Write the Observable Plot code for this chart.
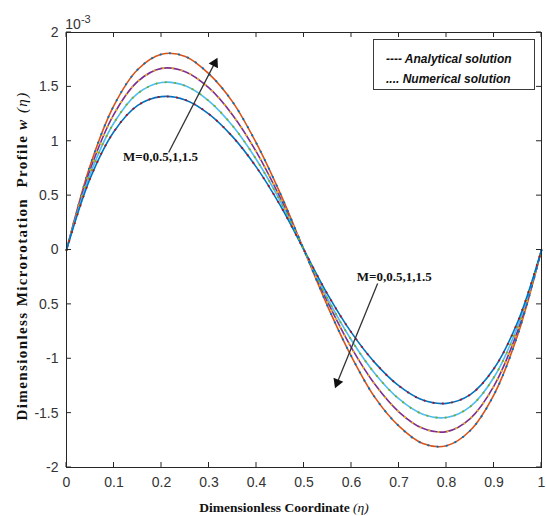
<!DOCTYPE html>
<html><head><meta charset="utf-8">
<script src="https://cdn.jsdelivr.net/npm/d3@7"></script>
<script src="https://cdn.jsdelivr.net/npm/@observablehq/plot@0.6"></script>
<style>
body{margin:0;background:#fff;}
#wrap{position:relative;width:546px;height:516px;}
#legend{position:absolute;left:373px;top:39px;width:162px;height:51px;box-sizing:border-box;border:1px solid #3a3a3a;background:#fff;
 font:italic bold 12px "Liberation Sans",Arial,sans-serif;color:#111;padding:9px 0 0 12px;line-height:20px;}
</style></head><body><div id="wrap"></div>
<script>
const eta = [0,0.05,0.1,0.15,0.2,0.25,0.3,0.35,0.4,0.45,0.5,0.55,0.6,0.65,0.7,0.75,0.8,0.85,0.9,0.95,1];
const wM0  = [0,0.78,1.33,1.66,1.80,1.78,1.62,1.36,0.98,0.52,0,-0.52,-0.98,-1.36,-1.62,-1.78,-1.80,-1.66,-1.33,-0.78,0];
const wM05 = [0,0.74,1.25,1.55,1.67,1.64,1.49,1.24,0.90,0.48,0,-0.48,-0.90,-1.24,-1.49,-1.64,-1.67,-1.55,-1.25,-0.74,0];
const wM1  = [0,0.70,1.17,1.44,1.54,1.51,1.37,1.14,0.83,0.45,0,-0.45,-0.83,-1.14,-1.37,-1.51,-1.54,-1.44,-1.17,-0.70,0];
const wM15 = [0,0.66,1.09,1.33,1.41,1.38,1.25,1.04,0.76,0.41,0,-0.41,-0.76,-1.04,-1.25,-1.38,-1.41,-1.33,-1.09,-0.66,0];
const seriesNames = ["M=0","M=0.5","M=1","M=1.5"];
const seriesValues = [wM0,wM05,wM1,wM15];
const lineColors = ["#D95319","#7E2F8E","#4DBEEE","#0072BD"];
const dotColors = ["#0072BD","#EDB120","#77AC30","#A2142F"];
const xTicks = [0,0.1,0.2,0.3,0.4,0.5,0.6,0.7,0.8,0.9,1];
const xTickLabels = ["0","0.1","0.2","0.3","0.4","0.5","0.6","0.7","0.8","0.9","1"];
const yTicks = [-2,-1.5,-1,-0.5,0,0.5,1,1.5,2];
const yTickLabels = ["-2","-1.5","-1","0.5","0","0.5","1","1.5","2"];
const annoLabel = "M=0,0.5,1,1.5";
const annotations = [{x:0.198,y:0.86},{x:0.69,y:-0.244}];
const arrows = [{x1:0.215,y1:0.897,x2:0.317,y2:1.758,hx:0.312,hy:1.718,rot:27.5},
                {x1:0.655,y1:-0.308,x2:0.566,y2:-1.262,hx:0.570,hy:-1.219,rot:202}];

const rows = [];
seriesNames.forEach((s,i)=>eta.forEach((e,j)=>rows.push({series:s, eta:e, w:seriesValues[i][j]})));

const marks = [];
seriesNames.forEach((s,i)=>{
  const d = rows.filter(r=>r.series===s);
  marks.push(Plot.line(d,{x:"eta",y:"w",stroke:lineColors[i],strokeWidth:1.6,curve:"catmull-rom"}));
});
seriesNames.forEach((s,i)=>{
  const d = rows.filter(r=>r.series===s);
  marks.push(Plot.line(d,{x:"eta",y:"w",stroke:dotColors[i],strokeWidth:2,strokeDasharray:"0.3,9",strokeLinecap:"round",curve:"catmull-rom"}));
});

const chart = Plot.plot({
  width:546, height:516, marginLeft:66, marginRight:5, marginTop:32, marginBottom:49,
  x:{domain:[0,1]}, y:{domain:[-2,2]},
  style:{fontFamily:'"Liberation Sans", Arial, sans-serif', fontSize:"14px", color:"#333", background:"transparent"},
  marks:[
    ...marks,
    Plot.frame({stroke:"#262626", strokeWidth:1}),
    Plot.axisX(xTicks,{anchor:"bottom", tickSize:0, tickPadding:10, tickFormat:d=>xTickLabels[xTicks.indexOf(d)], label:null, fontSize:14}),
    Plot.axisY(yTicks,{anchor:"left", tickSize:0, tickPadding:8, tickFormat:d=>yTickLabels[yTicks.indexOf(d)], label:null, fontSize:14}),
    Plot.text(annotations,{x:"x",y:"y",text:()=>annoLabel,fontFamily:'"Liberation Serif", "Times New Roman", serif',fontWeight:"bold",fontSize:13,fill:"#111"}),
    Plot.link(arrows,{x1:"x1",y1:"y1",x2:"hx",y2:"hy",stroke:"#333",strokeWidth:1.3}),
    Plot.dot(arrows,{x:"hx",y:"hy",symbol:"triangle2",r:5,fill:"#111",stroke:null,rotate:"rot"})
  ]
});
document.getElementById("wrap").appendChild(chart);
const svg = d3.select(chart);
// inward ticks on all four sides, positioned with Plot's scales
const sx = chart.scale("x"), sy = chart.scale("y");
const x0 = sx.apply(0), x1 = sx.apply(1), y0 = sy.apply(-2), y1 = sy.apply(2);
const tg = svg.append("g").attr("stroke","#262626").attr("stroke-width",1);
xTicks.forEach(t=>{
  const px = sx.apply(t);
  tg.append("line").attr("x1",px).attr("x2",px).attr("y1",y0).attr("y2",y0-5);
  tg.append("line").attr("x1",px).attr("x2",px).attr("y1",y1).attr("y2",y1+5);
});
yTicks.forEach(t=>{
  const py = sy.apply(t);
  tg.append("line").attr("x1",x0).attr("x2",x0+5).attr("y1",py).attr("y2",py);
  tg.append("line").attr("x1",x1).attr("x2",x1-5).attr("y1",py).attr("y2",py);
});
// exponent
const ex = svg.append("text").attr("x",78).attr("y",29).attr("font-family",'"Liberation Sans", Arial, sans-serif').attr("font-size",14).attr("fill","#333");
ex.append("tspan").text("10");
ex.append("tspan").attr("font-size",11).attr("dy",-6).text("-3");
// x label
const xl = svg.append("text").attr("x",284).attr("y",512).attr("text-anchor","middle").attr("font-family",'"Liberation Serif", "Times New Roman", serif').attr("font-size",13.5).attr("fill","#111");
xl.append("tspan").attr("font-weight","bold").text("Dimensionless Coordinate ");
xl.append("tspan").attr("font-style","italic").text("(η)");
// y label
const yl = svg.append("text").attr("transform","translate(27,256) rotate(-90)").attr("text-anchor","middle").attr("font-family",'"Liberation Serif", "Times New Roman", serif').attr("font-size",15).attr("letter-spacing",1.4).attr("fill","#111");
yl.append("tspan").attr("font-weight","bold").text("Dimensionless Microrotation  Profile ");
yl.append("tspan").attr("font-style","italic").attr("font-weight","bold").text("w");
yl.append("tspan").attr("font-style","italic").text(" (η)");
// legend
const lg = document.createElement("div");
lg.id = "legend";
lg.innerHTML = "---- Analytical solution<br>.... Numerical solution";
document.getElementById("wrap").appendChild(lg);
</script>
</body></html>
